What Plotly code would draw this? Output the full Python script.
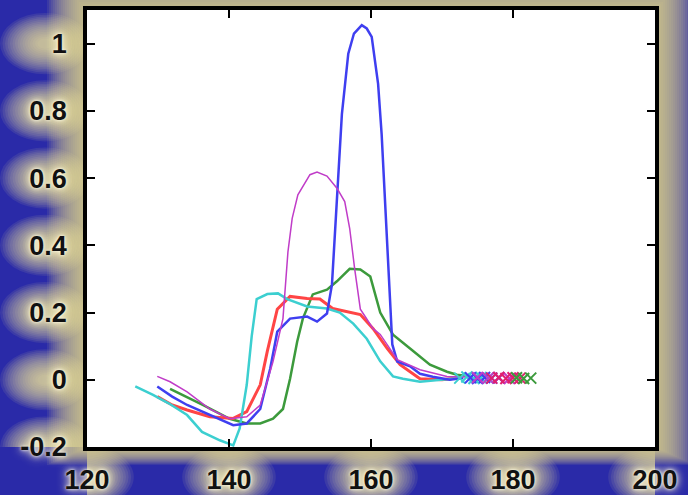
import plotly.graph_objects as go

# ---- data ----
cyan_x = [126.8, 129.3, 131.5, 134.1, 136.2, 138.7, 140.6, 141.5, 142.5, 143.2, 143.9, 145.4, 146.9, 148.2,
          151.0, 153.8, 155.6, 157.5, 159.4, 161.3, 163.1, 164.5, 166.9, 170.7, 172.5]
cyan_y = [-0.02, -0.045, -0.07, -0.105, -0.155, -0.18, -0.195, -0.145, -0.015, 0.13, 0.24, 0.255, 0.257, 0.24,
          0.218, 0.212, 0.2, 0.167, 0.122, 0.055, 0.01, 0.003, -0.006, 0.0, 0.005]

red_x = [129.9, 132.0, 134.1, 137.3, 140.6, 142.5, 144.4, 145.4, 146.8, 148.6, 151.0, 152.8, 154.6, 156.6,
         158.5, 160.3, 162.3, 164.1, 166.9, 170.0, 172.0]
red_y = [-0.05, -0.075, -0.09, -0.11, -0.115, -0.095, -0.015, 0.085, 0.21, 0.248, 0.242, 0.24, 0.212, 0.203,
         0.194, 0.152, 0.093, 0.045, 0.003, 0.0, 0.005]

blue_x = [129.9, 132.0, 134.1, 137.3, 140.6, 142.5, 144.4, 145.8, 146.8, 148.6, 151.0, 152.4, 153.8, 154.5,
          155.2, 155.9, 156.8, 157.6, 158.7, 159.4, 160.1, 161.0, 161.5, 162.0, 162.3, 163.0, 163.7, 165.5,
          166.9, 168.7, 171.1, 173.0]
blue_y = [-0.02, -0.05, -0.075, -0.105, -0.135, -0.13, -0.087, 0.033, 0.143, 0.182, 0.188, 0.173, 0.197, 0.283,
          0.54, 0.79, 0.97, 1.03, 1.055, 1.045, 1.02, 0.88, 0.73, 0.53, 0.38, 0.105, 0.054, 0.04,
          0.018, 0.009, 0.0, 0.005]

mag_x = [129.9, 131.7, 134.1, 137.3, 140.1, 142.5, 144.4, 146.2, 147.6, 148.3, 148.9, 149.7, 151.4, 152.4,
         153.8, 155.2, 156.3, 157.0, 157.7, 158.5, 160.3, 161.3, 162.3, 163.7, 166.9, 170.7, 173.5]
mag_y = [0.01, -0.006, -0.036, -0.087, -0.116, -0.11, -0.075, 0.054, 0.182, 0.38, 0.48, 0.55, 0.61, 0.618,
         0.606, 0.57, 0.53, 0.45, 0.33, 0.21, 0.152, 0.135, 0.104, 0.06, 0.03, 0.01, 0.008]

green_x = [131.7, 134.0, 136.3, 140.1, 142.5, 144.4, 146.2, 147.6, 148.6, 149.6, 150.4, 151.8, 153.8, 155.2,
           157.0, 158.5, 159.9, 161.3, 163.1, 165.5, 166.9, 168.3, 170.7, 172.1, 174.0]
green_y = [-0.027, -0.05, -0.075, -0.116, -0.13, -0.13, -0.116, -0.087, 0.003, 0.113, 0.182, 0.254, 0.268, 0.293,
           0.33, 0.328, 0.307, 0.2, 0.134, 0.093, 0.07, 0.045, 0.024, 0.015, 0.01]

# tail points drawn as crosses
cyan_mx = [172.5, 173.5, 174.5, 175.5, 176.5]
cyan_my = [0.005, 0.008, 0.004, 0.007, 0.005]
blue_mx = [174.0, 175.0, 176.0, 177.0, 178.0]
blue_my = [0.006, 0.004, 0.007, 0.005, 0.006]
mag_mx = [175.0, 176.5, 178.0, 179.5]
mag_my = [0.007, 0.005, 0.006, 0.004]
red_mx = [177.0, 178.0, 179.0, 180.0, 181.0]
red_my = [0.005, 0.007, 0.004, 0.006, 0.005]
green_mx = [180.5, 181.5, 182.5]
green_my = [0.006, 0.004, 0.005]

x_ticks = [120, 140, 160, 180, 200]
y_ticks = [-0.2, 0, 0.2, 0.4, 0.6, 0.8, 1]
y_ticklabels = ["-0.2", "0", "0.2", "0.4", "0.6", "0.8", "1"]
x_range = [120, 200]
y_range = [-0.2, 1.1]

C_CYAN = "#3ccfd0"
C_RED = "#ff4545"
C_BLUE = "#3f3ff0"
C_MAG = "#c03cc8"
C_GREEN = "#3c9a3c"
C_RED_M = "#e0206e"

fig = go.Figure()
lines = [
    (green_x, green_y, C_GREEN, 2.5),
    (red_x, red_y, C_RED, 3),
    (cyan_x, cyan_y, C_CYAN, 2.5),
    (blue_x, blue_y, C_BLUE, 2.5),
    (mag_x, mag_y, C_MAG, 1.5),
]
for xs, ys, col, w in lines:
    fig.add_trace(go.Scatter(x=xs, y=ys, mode="lines", line=dict(color=col, width=w),
                             showlegend=False, hoverinfo="skip"))

marks = [
    (cyan_mx, cyan_my, C_CYAN),
    (blue_mx, blue_my, C_BLUE),
    (mag_mx, mag_my, C_MAG),
    (red_mx, red_my, C_RED_M),
    (green_mx, green_my, C_GREEN),
]
for xs, ys, col in marks:
    fig.add_trace(go.Scatter(x=xs, y=ys, mode="markers",
                             marker=dict(symbol="x-thin", size=11, line=dict(color=col, width=2)),
                             showlegend=False, hoverinfo="skip"))

# ---- decorative glowing background ----
L, R, T, B = 87, 655, 10, 447
W, H = R - L, B - T
px_x = (x_range[1] - x_range[0]) / W   # data units per pixel
px_y = (y_range[1] - y_range[0]) / H
shapes = []
# frame glow
for d in range(40, 0, -2):
    shapes.append(dict(type="rect", xref="paper", yref="paper", layer="below",
                       x0=-d / W, x1=1 + d / W, y0=-(d * 0.45) / H, y1=1 + d / H,
                       line=dict(width=0), fillcolor="rgba(236,222,140,0.085)"))
# glows behind tick labels
for rr in range(36, 4, -2):
    a = 0.09
    for t in x_ticks:
        shapes.append(dict(type="circle", xref="x", yref="paper", layer="below",
                           x0=t - rr * 1.3 * px_x, x1=t + rr * 1.3 * px_x,
                           y0=-(30 + rr * 0.85) / H, y1=-(30 - rr * 0.85) / H,
                           line=dict(width=0), fillcolor=f"rgba(240,228,150,{a})"))
    for t in y_ticks:
        shapes.append(dict(type="circle", xref="paper", yref="y", layer="below",
                           x0=-(42 + rr * 1.25) / W, x1=-(42 - rr * 1.25) / W,
                           y0=t - rr * 0.85 * px_y, y1=t + rr * 0.85 * px_y,
                           line=dict(width=0), fillcolor=f"rgba(240,228,150,{a})"))
# plot area itself stays white
shapes.append(dict(type="rect", xref="paper", yref="paper", layer="below",
                   x0=0, x1=1, y0=0, y1=1, line=dict(width=0), fillcolor="white"))

glow = "0 0 3px #fffdf0, 0 0 7px #fff8d8, 0 0 12px #f6ecb4"
tickfont = dict(family="Liberation Sans, Arial, sans-serif", size=27, color="#111111",
                weight="bold", shadow=glow)

fig.update_layout(
    width=688, height=495,
    margin=dict(l=L, r=688 - R, t=T, b=495 - B),
    paper_bgcolor="#2a2aa8",
    plot_bgcolor="white",
    shapes=shapes,
    showlegend=False,
    xaxis=dict(range=x_range, tickvals=x_ticks, ticks="inside", ticklen=8, tickwidth=2,
               tickcolor="black", showline=True, linewidth=3.5, linecolor="black", mirror="ticks",
               showgrid=False, zeroline=False, tickfont=tickfont, ticklabelstandoff=6,
               automargin=False),
    yaxis=dict(range=y_range, tickvals=y_ticks, ticktext=y_ticklabels, ticks="inside", ticklen=8,
               tickwidth=2, tickcolor="black", showline=True, linewidth=3.5, linecolor="black",
               mirror="ticks", showgrid=False, zeroline=False, tickfont=tickfont, ticklabelstandoff=11,
               automargin=False),
)

fig.write_html("out.html", config={"displayModeBar": False},
               post_script="document.body.style.margin='0';document.body.style.overflow='hidden';")
